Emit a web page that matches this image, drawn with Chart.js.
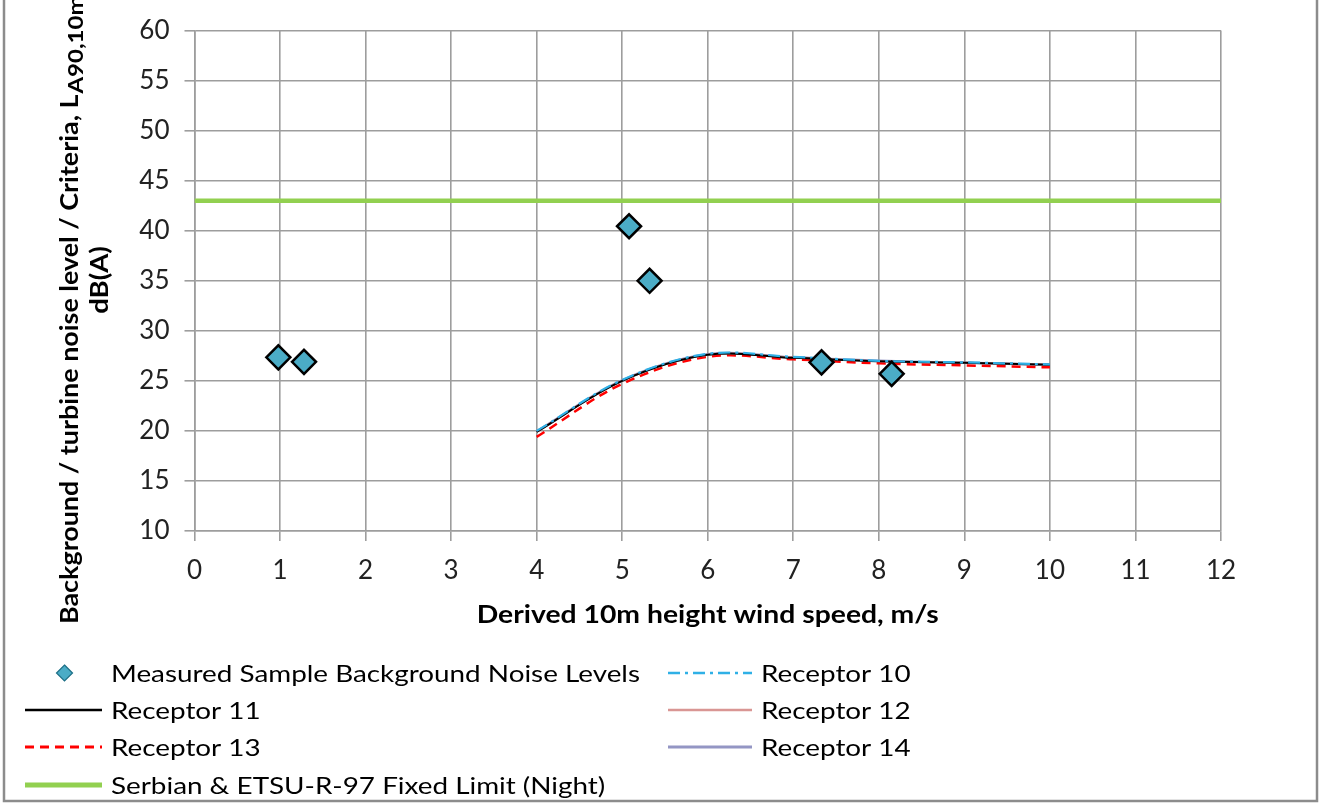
<!DOCTYPE html>
<html><head><meta charset="utf-8">
<script src="https://cdn.jsdelivr.net/npm/chart.js@4/dist/chart.umd.min.js"></script>
<style>html,body{margin:0;padding:0;background:#fff}#wrap{position:relative;width:1319px;height:810px}</style>
</head><body><div id="wrap"><canvas id="c"></canvas></div>
<script>
// ---- data ----
const measuredX = [0.98, 1.28, 5.08, 5.32, 7.33, 8.15];
const measuredY = [27.35, 26.9, 40.45, 35.0, 26.85, 25.7];
const windSpeeds = [4, 5, 6, 7, 8, 9, 10];
const receptor10 = [20.0, 25.1, 27.7, 27.4, 27.0, 26.85, 26.65];
const receptor11 = [19.9, 25.0, 27.6, 27.3, 26.95, 26.8, 26.6];
const receptor12 = [19.9, 25.0, 27.6, 27.35, 26.95, 26.8, 26.6];
const receptor13 = [19.4, 24.7, 27.4, 27.15, 26.75, 26.55, 26.35];
const receptor14 = [19.95, 25.05, 27.65, 27.35, 27.0, 26.8, 26.6];
const limitX = [0, 12];
const limitY = [43, 43];
const xTicks = [0,1,2,3,4,5,6,7,8,9,10,11,12];
const yTicks = [10,15,20,25,30,35,40,45,50,55,60];
const xTitle = 'Derived 10m height wind speed, m/s';
const yTitleMain = 'Background / turbine noise level / Criteria, L';
const yTitleSub = 'A90,10m';
const yTitleLine2 = 'dB(A)';

const FONT = 'Lato, "Open Sans", sans-serif';
const pts = (xs, ys) => xs.map((x, i) => ({x, y: ys[i]}));

const recDs = (label, ys, color, dash, width) => ({
  type: 'line', label, data: pts(windSpeeds, ys), borderColor: color, backgroundColor: color,
  borderDash: dash, borderWidth: width, pointRadius: 0, tension: 0.35, fill: false
});

const datasets = [
  {type:'scatter', label:'Measured Sample Background Noise Levels', data: pts(measuredX, measuredY),
   pointStyle:'rectRot', pointRadius:12, pointHoverRadius:12, backgroundColor:'#4bacc6', borderColor:'#000', borderWidth:2.5, order:0},
  recDs('Receptor 10', receptor10, '#2fb0e6', [12,5,3,5], 2.2),
  recDs('Receptor 11', receptor11, '#000000', [], 2),
  recDs('Receptor 12', receptor12, '#d99694', [], 2),
  recDs('Receptor 13', receptor13, '#ff0000', [9,6], 2.5),
  recDs('Receptor 14', receptor14, '#9496c4', [], 2.5),
  {type:'line', label:'Serbian & ETSU-R-97 Fixed Limit (Night)', data: pts(limitX, limitY),
   borderColor:'#92d050', backgroundColor:'#92d050', borderWidth:4.5, pointRadius:0, tension:0}
];

// legend layout (positions only)
const legendPos = [
  {x1:25, x2:102, ty:673, tx:111},
  {x1:668, x2:752, ty:673, tx:761},
  {x1:25, x2:102, ty:710, tx:111},
  {x1:668, x2:752, ty:710, tx:761},
  {x1:25, x2:102, ty:747, tx:111},
  {x1:668, x2:752, ty:747, tx:761},
  {x1:25, x2:102, ty:785, tx:111}
];
const SX = 1.16; // horizontal text stretch

function stretchText(ctx, text, x, y, sx) {
  ctx.save(); ctx.translate(x, y); ctx.scale(sx, 1); ctx.fillText(text, 0, 0); ctx.restore();
}

const customDraw = {
  id: 'customDraw',
  afterDraw(chart) {
    const ctx = chart.ctx;
    ctx.save();
    // outer border
    ctx.strokeStyle = '#8c8c8c'; ctx.lineWidth = 2.5;
    ctx.strokeRect(4, -10, 1313, 811);
    // legend
    ctx.font = '24px ' + FONT; ctx.textBaseline = 'middle'; ctx.textAlign = 'left';
    chart.data.datasets.forEach((ds, k) => {
      const p = legendPos[k];
      if (ds.type === 'scatter') {
        const cx = (p.x1 + p.x2) / 2 + 1, cy = p.ty, r = 8;
        ctx.beginPath(); ctx.moveTo(cx, cy - r); ctx.lineTo(cx + r, cy); ctx.lineTo(cx, cy + r); ctx.lineTo(cx - r, cy); ctx.closePath();
        ctx.fillStyle = ds.backgroundColor; ctx.fill();
        ctx.strokeStyle = '#1d6f86'; ctx.lineWidth = 1.2; ctx.stroke();
      } else {
        ctx.beginPath(); ctx.setLineDash(ds.borderDash || []);
        ctx.strokeStyle = ds.borderColor; ctx.lineWidth = ds.borderWidth + 0.5;
        ctx.moveTo(p.x1, p.ty); ctx.lineTo(p.x2, p.ty); ctx.stroke(); ctx.setLineDash([]);
      }
      ctx.fillStyle = '#000';
      stretchText(ctx, ds.label, p.tx, p.ty + 1, SX);
    });
    // x axis title
    const ca = chart.chartArea;
    ctx.font = 'bold 24px ' + FONT; ctx.textAlign = 'center'; ctx.textBaseline = 'middle';
    stretchText(ctx, xTitle, (ca.left + ca.right) / 2, 615, 1.18);
    // y axis title with subscript
    ctx.translate(78, 624); ctx.rotate(-Math.PI / 2);
    ctx.textBaseline = 'alphabetic'; ctx.textAlign = 'left';
    ctx.font = 'bold 25px ' + FONT;
    const w = ctx.measureText(yTitleMain).width * 1.075;
    stretchText(ctx, yTitleMain, 0, 0, 1.075);
    ctx.font = 'bold 20px ' + FONT;
    stretchText(ctx, yTitleSub, w + 1, 5, 1.2);
    ctx.font = 'bold 25px ' + FONT;
    ctx.textAlign = 'center';
    stretchText(ctx, yTitleLine2, 624 - 280, 30, 1.1);
    ctx.restore();
  }
};

new Chart(document.getElementById('c'), {
  data: { datasets },
  options: {
    responsive: true, maintainAspectRatio: false, animation: false,
    layout: { padding: { left: 0, right: 98, top: 29, bottom: 0 } },
    plugins: { legend: { display: false }, tooltip: { enabled: false } },
    scales: {
      x: {
        type: 'linear', min: 0, max: 12,
        afterBuildTicks: s => { s.ticks = xTicks.map(v => ({value: v})); },
        afterFit: s => { s.height = 279; },
        grid: { color: '#9d9d9d', lineWidth: 1.6, tickLength: 10 },
        border: { color: '#9d9d9d', width: 1.6 },
        ticks: { color: '#222', font: { family: FONT, size: 26 }, padding: 14 }
      },
      y: {
        type: 'linear', min: 10, max: 60,
        afterBuildTicks: s => { s.ticks = yTicks.map(v => ({value: v})); },
        afterFit: s => { s.width = 194.5; },
        grid: { color: '#9d9d9d', lineWidth: 1.6, tickLength: 10 },
        border: { color: '#9d9d9d', width: 1.6 },
        ticks: { color: '#222', font: { family: FONT, size: 26 }, padding: 15 }
      }
    }
  },
  plugins: [customDraw]
});
</script>
</body></html>
